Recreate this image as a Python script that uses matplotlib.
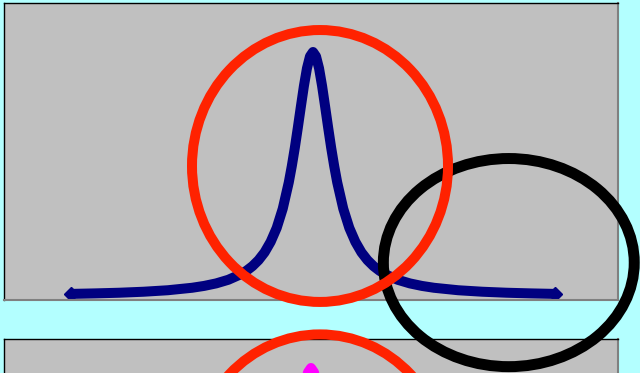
import matplotlib
matplotlib.use("Agg")
import matplotlib.pyplot as plt
from matplotlib.patches import Ellipse

# --- data ---
x_vals = [-10, -9, -8, -7, -6, -5, -4.5, -4, -3.5, -3, -2.75, -2.5, -2.25, -2, -1.75,
          -1.5, -1.25, -1, -0.875, -0.75, -0.625, -0.5, -0.375, -0.25, -0.125, 0,
          0.125, 0.25, 0.375, 0.5, 0.625, 0.75, 0.875, 1, 1.25, 1.5, 1.75, 2, 2.25,
          2.5, 2.75, 3, 3.5, 4, 4.5, 5, 6, 7, 8, 9, 10]
peak_vals = [0.0086, 0.0107, 0.0134, 0.0175, 0.0236, 0.0337, 0.0413, 0.0517, 0.0665,
             0.0884, 0.1034, 0.1225, 0.147, 0.179, 0.222, 0.279, 0.358, 0.466, 0.533,
             0.608, 0.691, 0.777, 0.861, 0.933, 0.982, 1.0, 0.982, 0.933, 0.861,
             0.777, 0.691, 0.608, 0.533, 0.466, 0.358, 0.279, 0.222, 0.179, 0.147,
             0.1225, 0.1034, 0.0884, 0.0665, 0.0517, 0.0413, 0.0337, 0.0236, 0.0175,
             0.0134, 0.0107, 0.0086]
peak2_vals = list(peak_vals)

# annotation ellipses (figure fraction): center x, center y, width, height
red_rings = [(0.5, 0.555, 0.40, 0.729), (0.5, -0.261, 0.40, 0.729)]
black_rings = [(0.795, 0.296, 0.392, 0.558)]

W, H = 640, 373
fig = plt.figure(figsize=(W / 100, H / 100), dpi=100)
fig.patch.set_facecolor('#b3ffff')

def style_ax(ax):
    ax.set_facecolor('#c0c0c0')
    ax.set_xticks([])
    ax.set_yticks([])
    for s in ['top', 'left']:
        ax.spines[s].set_color('black')
        ax.spines[s].set_linewidth(1.0)
    for s in ['bottom', 'right']:
        ax.spines[s].set_color('#808080')
        ax.spines[s].set_linewidth(1.5)

# top panel
ax1 = fig.add_axes([4 / W, 1 - 300 / H, 614 / W, 297 / H])
style_ax(ax1)
ax1.plot(x_vals, peak_vals, color='#000080', lw=7.2, marker='D', ms=7.5,
         markevery=[0, len(x_vals) - 1],
         solid_joinstyle='round', solid_capstyle='butt')
ax1.set_xlim(-309 / 24.2, 305 / 24.2)
ax1.set_ylim(-4 / 244, 1 + 49 / 244)

# bottom panel (extends below the figure)
ax2 = fig.add_axes([4 / W, 1 - 636 / H, 614 / W, 297 / H])
style_ax(ax2)
ax2.plot([v - 2 / 24.2 for v in x_vals], peak2_vals, color='#ff00ff', lw=7.2,
         marker='D', ms=7.5, markevery=[0, len(x_vals) - 1],
         solid_joinstyle='round', solid_capstyle='butt')
ax2.set_xlim(-309 / 24.2, 305 / 24.2)
ax2.set_ylim(1 + 29 / 244 - 297 / 244, 1 + 29 / 244)

for (cx, cy, w, h) in black_rings:
    fig.add_artist(Ellipse((cx, cy), w, h, transform=fig.transFigure,
                           fill=False, edgecolor='black', lw=7.9, zorder=10))
for (cx, cy, w, h) in red_rings:
    fig.add_artist(Ellipse((cx, cy), w, h, transform=fig.transFigure,
                           fill=False, edgecolor='#ff2200', lw=7.2, zorder=11))

fig.savefig('out.png', dpi=100, facecolor=fig.get_facecolor())
